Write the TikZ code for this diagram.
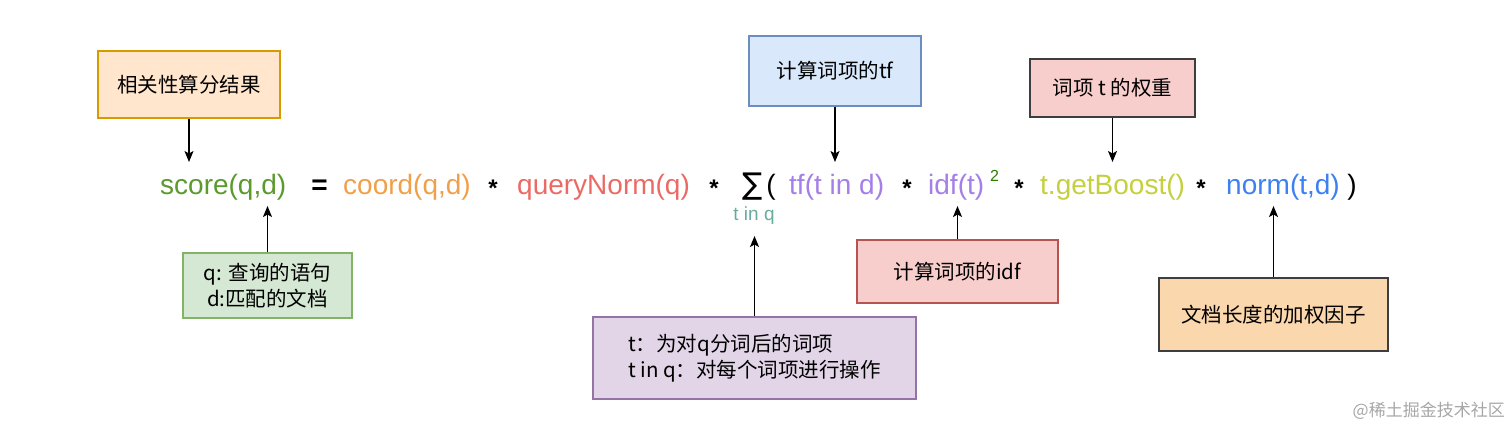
\documentclass[tikz,border=0pt]{standalone}
\usepackage{fontspec}
\setmainfont{Liberation Sans}
\newfontfamily\cjk{Noto Sans CJK SC}
\newfontfamily\djv{DejaVu Sans}
\usetikzlibrary{arrows.meta}
\definecolor{cScore}{HTML}{5B9A2D}
\definecolor{cCoord}{HTML}{F0A04B}
\definecolor{cQN}{HTML}{EA6B66}
\definecolor{cPurp}{HTML}{A47FE8}
\definecolor{cBoost}{HTML}{C4D03F}
\definecolor{cNorm}{HTML}{3C80F2}
\definecolor{cTeal}{HTML}{67AB9F}
\definecolor{cSup}{HTML}{2D7A00}
\definecolor{fOr}{HTML}{FFE6CC}\definecolor{sOr}{HTML}{D79B00}
\definecolor{fBl}{HTML}{DAE8FC}\definecolor{sBl}{HTML}{6C8EBF}
\definecolor{fRd}{HTML}{F8CECC}\definecolor{sRd}{HTML}{B85450}
\definecolor{fGr}{HTML}{D5E8D4}\definecolor{sGr}{HTML}{82B366}
\definecolor{fPu}{HTML}{E1D5E7}\definecolor{sPu}{HTML}{9673A6}
\definecolor{fOr2}{HTML}{FAD7AC}\definecolor{sDk}{HTML}{3E3E3E}
\tikzset{
  term/.style={anchor=base west, inner sep=0pt, text height=23pt, text depth=3pt, outer ysep=9pt, font=\fontsize{28}{30}\selectfont},
  mulop/.style={anchor=center, inner sep=0pt, font=\fontsize{24}{24}\selectfont\bfseries},
  paren/.style={anchor=base, inner sep=0pt, font=\fontsize{28}{30}\selectfont},
  box/.style={draw, line width=1.2pt, inner sep=0pt, align=center, font=\cjk\fontsize{20.5}{26}\selectfont},
  arr/.style={line width=1.3pt, -{Stealth[length=11pt,width=9pt,inset=2.5pt]}},
}
\begin{document}
\begin{tikzpicture}[x=1pt,y=-1pt]
\useasboundingbox (0,0) rectangle (1512,429);
% formula
\node[term, text=cScore] (score) at (160,194) {score(q,d)};
\node[paren] (eq) at (319.5,194) {\textbf{=}};
\node[term, text=cCoord] (coord) at (343,194) {coord(q,d)};
\node[mulop] (m1) at (493,188) {*};
\node[term, text=cQN] (qn) at (517,194) {queryNorm(q)};
\node[mulop] (m2) at (714,188) {*};
\node[anchor=base, inner sep=0pt, font=\djv\fontsize{30}{30}\selectfont] (sum) at (753,194) {∑};
\node[anchor=base, inner sep=0pt, text depth=4pt, outer ysep=12pt, text=cTeal, font=\fontsize{19}{19}\selectfont] (tinq) at (754,220) {t in q};
\node[paren] (lp) at (771,194) {(};
\node[term, text=cPurp] (tf) at (789,194) {tf(t in d)};
\node[mulop] (m3) at (907,188) {*};
\node[term, text=cPurp] (idf) at (928,194) {idf(t)};
\node[anchor=base west, inner sep=0pt, text=cSup, font=\fontsize{16}{16}\selectfont] (sup) at (990,181) {2};
\node[mulop] (m4) at (1019,188) {*};
\node[term, text=cBoost] (boost) at (1040,194) {t.getBoost()};
\node[mulop] (m5) at (1201,188) {*};
\node[term, text=cNorm] (norm) at (1226,194) {norm(t,d)};
\node[paren] (rp) at (1352,194) {)};
% boxes
\node[box, fill=fOr, draw=sOr, minimum width=182pt, minimum height=67pt] (brel) at (189,84.5) {相关性算分结果};
\node[box, fill=fBl, draw=sBl, minimum width=172pt, minimum height=70pt] (btf) at (835,71) {计算词项的tf};
\node[box, fill=fRd, draw=sDk, minimum width=165pt, minimum height=58pt] (bboost) at (1112.5,88) {词项 t 的权重};
\node[box, fill=fGr, draw=sGr, minimum width=169pt, minimum height=65pt] (bqd) at (267.5,285.5) {q: 查询的语句\\d:匹配的文档};
\node[box, fill=fPu, draw=sPu, minimum width=323pt, minimum height=82pt, align=left] (bt) at (754.5,358) {t：为对q分词后的词项\\t in q：对每个词项进行操作};
\node[box, fill=fRd, draw=sRd, minimum width=201pt, minimum height=63pt] (bidf) at (957.5,271.5) {计算词项的idf};
\node[box, fill=fOr2, draw=sDk, minimum width=229pt, minimum height=73pt] (bnorm) at (1273.5,314.5) {文档长度的加权因子};
% arrows
\draw[arr] (brel.south) -- (brel.south |- score.north);
\draw[arr] (btf.south) -- (btf.south |- tf.north);
\draw[arr] (bboost.south) -- (bboost.south |- boost.north);
\draw[arr] (bqd.north) -- (bqd.north |- score.south);
\draw[arr] (bt.north) -- (bt.north |- tinq.south);
\draw[arr] (bidf.north) -- (bidf.north |- idf.south);
\draw[arr] (bnorm.north) -- (bnorm.north |- norm.south);
% watermark
\node[anchor=east, inner sep=0pt, text=gray!70, font=\cjk\fontsize{17}{17}\selectfont] (wm) at (1505,411) {@稀土掘金技术社区};
\end{tikzpicture}
\end{document}
